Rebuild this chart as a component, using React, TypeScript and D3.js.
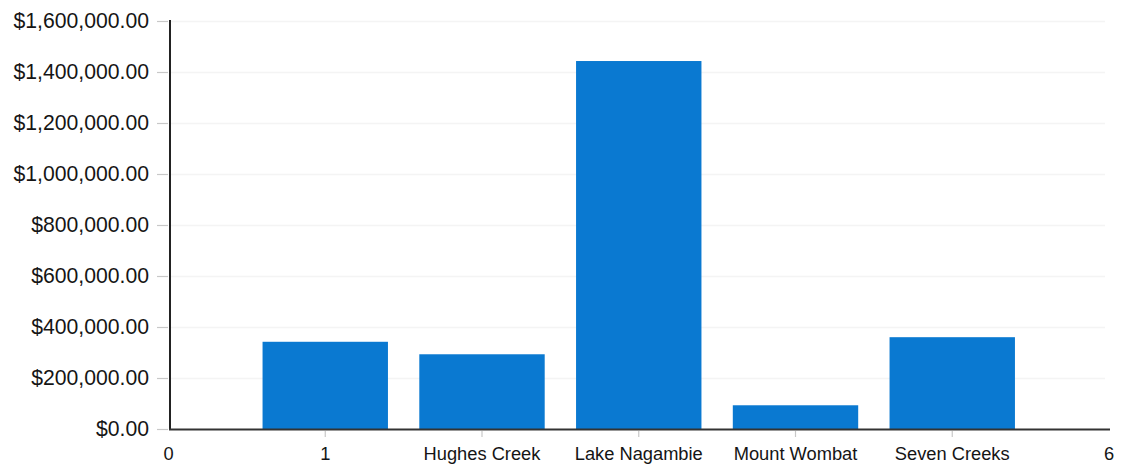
import React from "react";
import * as d3 from "d3";

const xTickValues = [0, 1, 2, 3, 4, 5, 6];
const xTickLabels = ["0", "1", "Hughes Creek", "Lake Nagambie", "Mount Wombat", "Seven Creeks", "6"];
const barPositions = [1, 2, 3, 4, 5];
const barValues = [344000, 295000, 1445000, 95000, 362000];
const yTickValues = [0, 200000, 400000, 600000, 800000, 1000000, 1200000, 1400000, 1600000];

const W = 1124;
const H = 468;

export default function App() {
  const x = d3.scaleLinear().domain([0, 6]).range([168.5, 1109]);
  const y = d3.scaleLinear().domain([0, 1600000]).range([429.5, 21.5]);
  const bw = x(0.8) - x(0);
  const fmt = (v: number) => "$" + d3.format(",.2f")(v);
  const font = "'Liberation Sans', Arial, Helvetica, sans-serif";

  return (
    <svg
      width={W}
      height={H}
      style={{ position: "absolute", left: 0, top: 0, background: "#fff" }}
    >
      {yTickValues.slice(1).map((t) => (
        <line key={"g" + t} x1={171} x2={1105} y1={y(t)} y2={y(t)} stroke="#f4f4f4" strokeWidth={1.5} />
      ))}
      {barPositions.map((p, i) => (
        <rect
          key={"b" + p}
          x={x(p) - bw / 2}
          y={y(barValues[i])}
          width={bw}
          height={y(0) - y(barValues[i])}
          fill="#0a79d1"
        />
      ))}
      {yTickValues.map((t) => (
        <g key={"y" + t}>
          <line x1={157} x2={168} y1={y(t)} y2={y(t)} stroke="#c8c8c8" strokeWidth={1.2} />
          <text
            x={149}
            y={y(t)}
            dy="0.3em"
            textAnchor="end"
            fontFamily={font}
            fontSize={21.2}
            fill="#151515"
          >
            {fmt(t)}
          </text>
        </g>
      ))}
      {xTickValues.map((t, i) => (
        <g key={"x" + t}>
          {t > 0 && t < 6 && (
            <line x1={x(t)} x2={x(t)} y1={431} y2={437} stroke="#c8c8c8" strokeWidth={1.2} />
          )}
          <text
            x={x(t)}
            y={460}
            textAnchor="middle"
            fontFamily={font}
            fontSize={18.3}
            fill="#151515"
          >
            {xTickLabels[i]}
          </text>
        </g>
      ))}
      <line x1={170} x2={170} y1={20} y2={y(0)} stroke="#222" strokeWidth={2} />
      <line x1={169} x2={1110} y1={y(0)} y2={y(0)} stroke="#333" strokeWidth={2} />
    </svg>
  );
}
